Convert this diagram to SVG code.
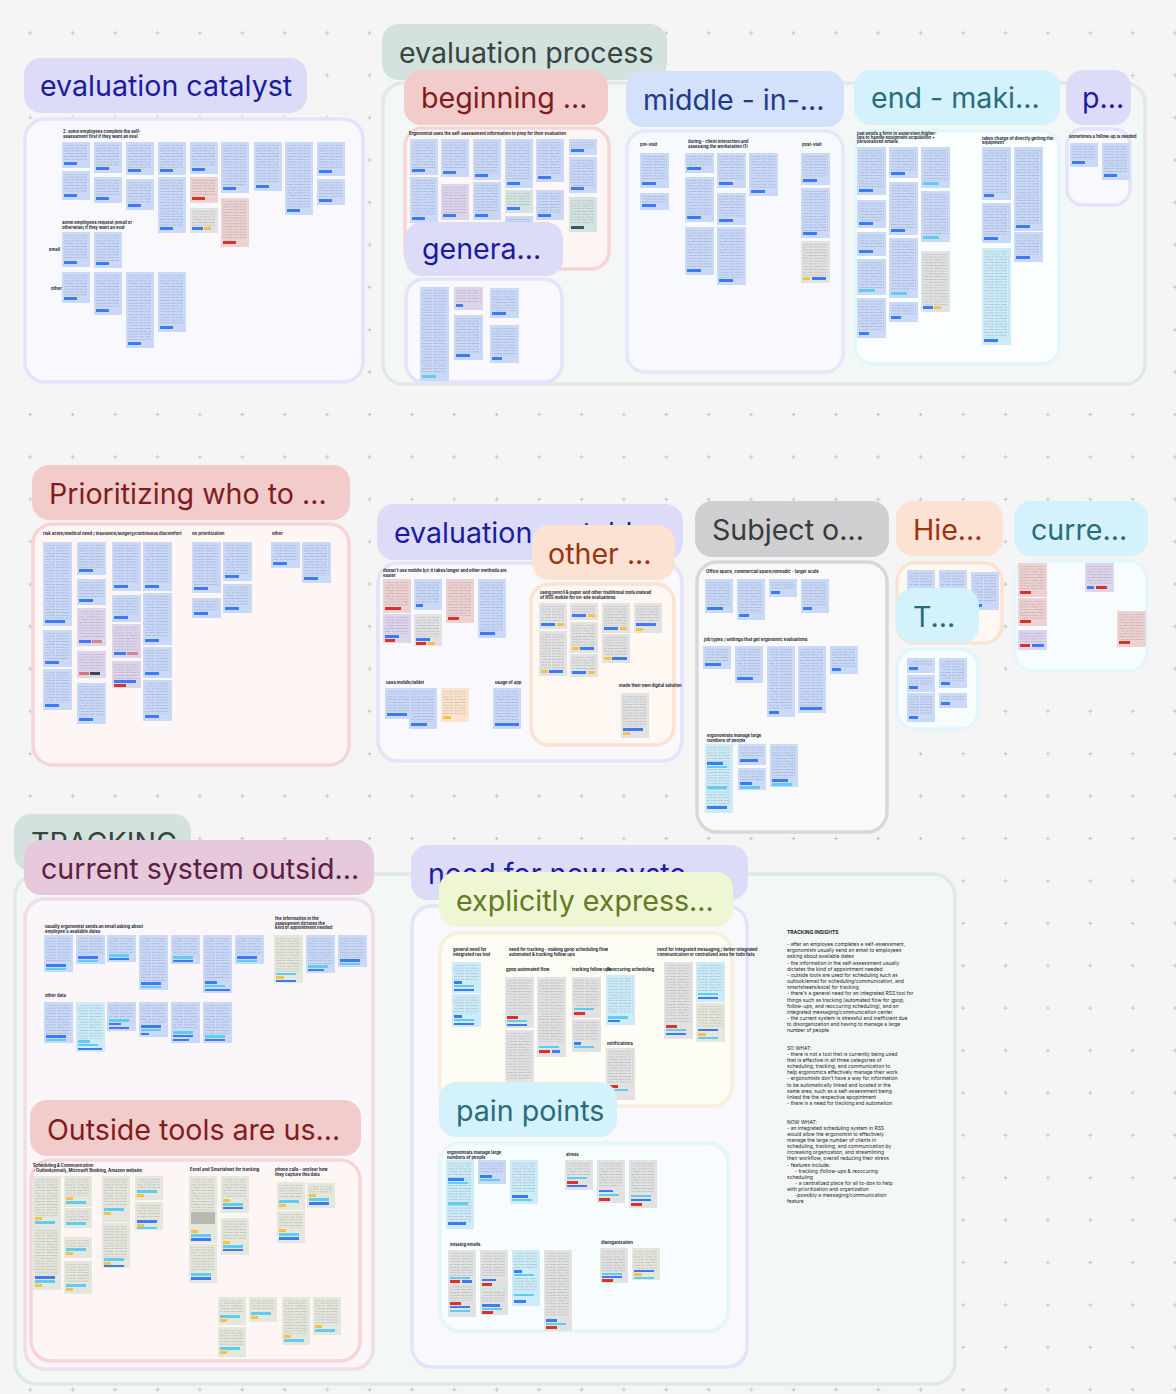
<svg xmlns="http://www.w3.org/2000/svg" width="1176" height="1394" viewBox="0 0 1176 1394">
<defs>
<pattern id="dots" x="9.1" y="11.7" width="42.4" height="42.4" patternUnits="userSpaceOnUse"><path d="M19.2 21.2h4M21.2 19.2v4" stroke="#c4c4c4" stroke-width="1"/></pattern>
<pattern id="tx" width="13" height="8.4" patternUnits="userSpaceOnUse"><g fill="#3f4654" fill-opacity="0.28"><rect width="8" height="0.7"/><rect x="9" width="3" height="0.7"/><rect y="2.8" width="3" height="0.7"/><rect x="4" y="2.8" width="8" height="0.7"/><rect y="5.6" width="5" height="0.7"/><rect x="6" y="5.6" width="6" height="0.7"/></g></pattern>
</defs>
<style>
.pill{rx:17px}
.fr{stroke-width:3.5}
.pt{font-family:Inter,"Noto Sans","Liberation Sans",sans-serif;font-size:28.6px}
.h{font-family:Inter,"Liberation Sans",sans-serif;font-size:4.2px;font-weight:700;fill:#1f2937}
.b{fill:#c9d9f7}.r{fill:#eed1d1}.g{fill:#e2e2e2}.p{fill:#ddd5ec}.o{fill:#fbe4cd}.c{fill:#cdebf8}.e{fill:#e5e7dc}.q{fill:#d4e4e2}
.t{fill:url(#tx)}
.tb{fill:#3b7cf4}.tr{fill:#d8322c}.ty{fill:#f4c246}.tc{fill:#5fcdf0}
.ins{font-family:Inter,"Liberation Sans",sans-serif;font-size:5px;fill:#1f1f1f}
</style>
<rect width="1176" height="1394" fill="#f5f5f5"/>
<rect width="1176" height="1394" fill="url(#dots)"/>
<g id="connectors"/>

<g id="evaluation-catalyst">
<rect class="pill" x="24" y="58" width="283" height="55" fill="#dcdcf9"/>
<text class="pt" x="40" y="96" fill="#1b1b9e">evaluation catalyst</text>
<rect class="fr" x="25" y="119" width="338" height="263" rx="20" fill="#f8f8fd" stroke="#e3e3fb"/>
<text class="h" x="63" y="133">2. some employees complete the self-</text>
<text class="h" x="63" y="138">assessment first if they want an eval</text>
<text class="h" x="62" y="224">some employees request (email or</text>
<text class="h" x="62" y="229">otherwise) if they want an eval</text>
<text class="h" x="49" y="251">email</text>
<text class="h" x="51" y="290">other</text>
<g transform="translate(62,142)"><rect class="b" width="28" height="26"/><rect class="t" x="2" y="3" width="24" height="16"/><rect class="tb" x="2" y="20" width="13" height="3"/></g>
<g transform="translate(62,171)"><rect class="b" width="28" height="29"/><rect class="t" x="2" y="3" width="24" height="19"/><rect class="tb" x="2" y="23" width="13" height="3"/></g>
<g transform="translate(94,142)"><rect class="b" width="28" height="31"/><rect class="t" x="2" y="3" width="24" height="21"/><rect class="tb" x="2" y="25" width="13" height="3"/></g>
<g transform="translate(94,177)"><rect class="b" width="28" height="26"/><rect class="t" x="2" y="3" width="24" height="16"/><rect class="tb" x="2" y="20" width="13" height="3"/></g>
<g transform="translate(126,142)"><rect class="b" width="28" height="33"/><rect class="t" x="2" y="3" width="24" height="23"/><rect class="tb" x="2" y="27" width="13" height="3"/></g>
<g transform="translate(126,179)"><rect class="b" width="28" height="31"/><rect class="t" x="2" y="3" width="24" height="21"/><rect class="tb" x="2" y="25" width="13" height="3"/></g>
<g transform="translate(158,142)"><rect class="b" width="28" height="33"/><rect class="t" x="2" y="3" width="24" height="23"/><rect class="tb" x="2" y="27" width="13" height="3"/></g>
<g transform="translate(158,177)"><rect class="b" width="28" height="56"/><rect class="t" x="2" y="3" width="24" height="46"/><rect class="tb" x="2" y="50" width="13" height="3"/></g>
<g transform="translate(190,142)"><rect class="b" width="28" height="32"/><rect class="t" x="2" y="3" width="24" height="22"/><rect class="tb" x="2" y="26" width="13" height="3"/></g>
<g transform="translate(190,177)"><rect class="r" width="28" height="26"/><rect class="t" x="2" y="3" width="24" height="16"/><rect class="tr" x="2" y="20" width="13" height="3"/></g>
<g transform="translate(190,208)"><rect class="g" width="28" height="25"/><rect class="t" x="2" y="3" width="24" height="15"/><rect class="tb" x="2" y="19" width="11" height="3"/><rect class="ty" x="14" y="19" width="7" height="3"/></g>
<g transform="translate(221,142)"><rect class="b" width="28" height="51"/><rect class="t" x="2" y="3" width="24" height="41"/><rect class="tb" x="2" y="45" width="13" height="3"/></g>
<g transform="translate(221,198)"><rect class="r" width="28" height="49"/><rect class="t" x="2" y="3" width="24" height="39"/><rect class="tr" x="2" y="43" width="13" height="3"/></g>
<g transform="translate(254,142)"><rect class="b" width="28" height="49"/><rect class="t" x="2" y="3" width="24" height="39"/><rect class="tb" x="2" y="43" width="13" height="3"/></g>
<g transform="translate(285,142)"><rect class="b" width="28" height="73"/><rect class="t" x="2" y="3" width="24" height="63"/><rect class="tb" x="2" y="67" width="13" height="3"/></g>
<g transform="translate(317,142)"><rect class="b" width="28" height="34"/><rect class="t" x="2" y="3" width="24" height="24"/><rect class="tb" x="2" y="28" width="13" height="3"/></g>
<g transform="translate(317,179)"><rect class="b" width="28" height="26"/><rect class="t" x="2" y="3" width="24" height="16"/><rect class="tb" x="2" y="20" width="13" height="3"/></g>
<g transform="translate(62,232)"><rect class="b" width="28" height="35"/><rect class="t" x="2" y="3" width="24" height="25"/><rect class="tb" x="2" y="29" width="13" height="3"/></g>
<g transform="translate(94,232)"><rect class="b" width="28" height="36"/><rect class="t" x="2" y="3" width="24" height="26"/><rect class="tb" x="2" y="30" width="13" height="3"/></g>
<g transform="translate(62,272)"><rect class="b" width="28" height="31"/><rect class="t" x="2" y="3" width="24" height="21"/><rect class="tb" x="2" y="25" width="13" height="3"/></g>
<g transform="translate(94,272)"><rect class="b" width="28" height="43"/><rect class="t" x="2" y="3" width="24" height="33"/><rect class="tb" x="2" y="37" width="13" height="3"/></g>
<g transform="translate(126,272)"><rect class="b" width="28" height="76"/><rect class="t" x="2" y="3" width="24" height="66"/><rect class="tb" x="2" y="70" width="13" height="3"/></g>
<g transform="translate(158,272)"><rect class="b" width="28" height="60"/><rect class="t" x="2" y="3" width="24" height="50"/><rect class="tb" x="2" y="54" width="13" height="3"/></g>
</g>

<g id="evaluation-process">
<rect class="fr" x="383" y="83" width="762" height="301" rx="20" fill="#f3f7f6" stroke="#dfeae6"/>
<rect class="pill" x="382" y="24" width="285" height="56" fill="#d3e2df"/>
<text class="pt" x="399" y="63" fill="#39433f">evaluation process</text>

<g id="beginning">
<rect class="fr" x="405" y="128" width="204" height="141" rx="18" fill="#fdf6f5" stroke="#f6d5d4"/>
<rect class="pill" x="404" y="70" width="204" height="55" fill="#f2cccb"/>
<text class="pt" x="421" y="108" fill="#7f1d1d">beginning ...</text>
<text class="h" x="409" y="135">Ergonomist uses the self-assessment information to prep for their evaluation</text>
<g transform="translate(410,139)"><rect class="b" width="28" height="36"/><rect class="t" x="2" y="3" width="24" height="26"/><rect class="tb" x="2" y="30" width="13" height="3"/></g>
<g transform="translate(410,177)"><rect class="b" width="28" height="46"/><rect class="t" x="2" y="3" width="24" height="36"/><rect class="tb" x="2" y="40" width="13" height="3"/></g>
<g transform="translate(441,139)"><rect class="b" width="28" height="38"/><rect class="t" x="2" y="3" width="24" height="28"/><rect class="tb" x="2" y="32" width="13" height="3"/></g>
<g transform="translate(441,184)"><rect class="p" width="28" height="36"/><rect class="t" x="2" y="3" width="24" height="26"/><rect class="tb" x="2" y="30" width="13" height="3"/></g>
<g transform="translate(473,139)"><rect class="b" width="28" height="41"/><rect class="t" x="2" y="3" width="24" height="31"/><rect class="tb" x="2" y="35" width="13" height="3"/></g>
<g transform="translate(473,182)"><rect class="b" width="28" height="38"/><rect class="t" x="2" y="3" width="24" height="28"/><rect class="tb" x="2" y="32" width="13" height="3"/></g>
<g transform="translate(505,139)"><rect class="b" width="28" height="49"/><rect class="t" x="2" y="3" width="24" height="39"/><rect class="tb" x="2" y="43" width="13" height="3"/></g>
<g transform="translate(505,190)"><rect class="q" width="28" height="23"/><rect class="t" x="2" y="3" width="24" height="13"/><rect class="tb" x="2" y="17" width="13" height="3"/></g>
<g transform="translate(505,216)"><rect class="b" width="28" height="14"/><rect class="t" x="2" y="3" width="24" height="5"/></g>
<g transform="translate(536,139)"><rect class="b" width="28" height="43"/><rect class="t" x="2" y="3" width="24" height="33"/><rect class="tb" x="2" y="37" width="13" height="3"/></g>
<g transform="translate(536,190)"><rect class="b" width="28" height="30"/><rect class="t" x="2" y="3" width="24" height="20"/><rect class="tb" x="2" y="24" width="13" height="3"/></g>
<g transform="translate(569,139)"><rect class="b" width="28" height="16"/><rect class="t" x="2" y="3" width="24" height="6"/><rect class="tb" x="2" y="10" width="13" height="3"/></g>
<g transform="translate(569,157)"><rect class="b" width="28" height="36"/><rect class="t" x="2" y="3" width="24" height="26"/><rect class="tb" x="2" y="30" width="13" height="3"/></g>
<g transform="translate(569,197)"><rect class="q" width="28" height="35"/><rect class="t" x="2" y="3" width="24" height="25"/><rect fill="#3a5a55" x="2" y="29" width="13" height="3"/></g>
</g>

<g id="general">
<rect class="fr" x="406" y="279" width="156" height="103" rx="18" fill="#f8f8fd" stroke="#e3e3fb"/>
<rect class="pill" x="405" y="222" width="158" height="54" fill="#dcdcf9"/>
<text class="pt" x="422" y="259" fill="#1b1b9e">genera...</text>
<g transform="translate(420,287)"><rect class="b" width="29" height="94"/><rect class="t" x="2" y="3" width="25" height="84"/><rect class="tc" x="2" y="88" width="14" height="3"/></g>
<g transform="translate(454,287)"><rect class="p" width="29" height="23"/><rect class="t" x="2" y="3" width="25" height="13"/><rect class="tb" x="2" y="17" width="7" height="3"/></g>
<g transform="translate(454,315)"><rect class="b" width="29" height="45"/><rect class="t" x="2" y="3" width="25" height="35"/><rect class="tb" x="2" y="39" width="14" height="3"/></g>
<g transform="translate(490,288)"><rect class="b" width="29" height="30"/><rect class="t" x="2" y="3" width="25" height="20"/><rect class="tb" x="2" y="24" width="14" height="3"/></g>
<g transform="translate(490,325)"><rect class="b" width="29" height="38"/><rect class="t" x="2" y="3" width="25" height="28"/><rect class="tb" x="2" y="32" width="10" height="3"/></g>
</g>

<g id="middle">
<rect class="fr" x="627" y="131" width="216" height="241" rx="18" fill="#f8f9fe" stroke="#e3e9fb"/>
<rect class="pill" x="626" y="71" width="218" height="56" fill="#d4e1fb"/>
<text class="pt" x="643" y="110" fill="#1e3a8a">middle - in-...</text>
<text class="h" x="640" y="146">pre-visit</text>
<text class="h" x="688" y="143">during - client interaction and</text>
<text class="h" x="688" y="147.5">assessing the workstation (1)</text>
<text class="h" x="802" y="146">post-visit</text>
<g transform="translate(640,153)"><rect class="b" width="29" height="35"/><rect class="t" x="2" y="3" width="25" height="25"/><rect class="tb" x="2" y="29" width="14" height="3"/></g>
<g transform="translate(640,193)"><rect class="b" width="29" height="17"/><rect class="t" x="2" y="3" width="25" height="7"/><rect class="tb" x="2" y="11" width="14" height="3"/></g>
<g transform="translate(685,153)"><rect class="b" width="29" height="20"/><rect class="t" x="2" y="3" width="25" height="10"/><rect class="tb" x="2" y="14" width="14" height="3"/></g>
<g transform="translate(685,177)"><rect class="b" width="29" height="45"/><rect class="t" x="2" y="3" width="25" height="35"/><rect class="tb" x="2" y="39" width="14" height="3"/></g>
<g transform="translate(685,227)"><rect class="b" width="29" height="48"/><rect class="t" x="2" y="3" width="25" height="38"/><rect class="tb" x="2" y="42" width="14" height="3"/></g>
<g transform="translate(717,153)"><rect class="b" width="29" height="35"/><rect class="t" x="2" y="3" width="25" height="25"/><rect class="tb" x="2" y="29" width="14" height="3"/></g>
<g transform="translate(717,193)"><rect class="b" width="29" height="32"/><rect class="t" x="2" y="3" width="25" height="22"/><rect class="tb" x="2" y="26" width="14" height="3"/></g>
<g transform="translate(717,227)"><rect class="b" width="29" height="58"/><rect class="t" x="2" y="3" width="25" height="48"/><rect class="tb" x="2" y="52" width="14" height="3"/></g>
<g transform="translate(749,153)"><rect class="b" width="29" height="43"/><rect class="t" x="2" y="3" width="25" height="33"/><rect class="tb" x="2" y="37" width="14" height="3"/></g>
<g transform="translate(801,153)"><rect class="b" width="29" height="32"/><rect class="t" x="2" y="3" width="25" height="22"/><rect class="tb" x="2" y="26" width="14" height="3"/></g>
<g transform="translate(801,188)"><rect class="b" width="29" height="50"/><rect class="t" x="2" y="3" width="25" height="40"/><rect class="tb" x="2" y="44" width="14" height="3"/></g>
<g transform="translate(801,241)"><rect class="g" width="29" height="42"/><rect class="t" x="2" y="3" width="25" height="32"/><rect class="ty" x="2" y="36" width="7" height="3"/><rect class="tb" x="11" y="36" width="14" height="3"/></g>
</g>

<g id="end">
<rect class="fr" x="855" y="131" width="204" height="233" rx="18" fill="#fafeff" stroke="#e3f6fb"/>
<rect class="pill" x="854" y="70" width="206" height="55" fill="#d4f2fb"/>
<text class="pt" x="871" y="108" fill="#2a6b7c">end - maki...</text>
<text class="h" x="857" y="135">just sends a form to supervisor/higher-</text>
<text class="h" x="857" y="139">ups to handle equipment acquisition +</text>
<text class="h" x="857" y="143">personalized emails</text>
<text class="h" x="982" y="140">takes charge of directly getting the</text>
<text class="h" x="982" y="144">equipment</text>
<g transform="translate(857,147)"><rect class="b" width="29" height="48"/><rect class="t" x="2" y="3" width="25" height="38"/><rect class="tb" x="2" y="42" width="14" height="3"/></g>
<g transform="translate(857,200)"><rect class="b" width="29" height="28"/><rect class="t" x="2" y="3" width="25" height="18"/><rect class="tb" x="2" y="22" width="14" height="3"/></g>
<g transform="translate(857,232)"><rect class="b" width="29" height="24"/><rect class="t" x="2" y="3" width="25" height="14"/><rect class="tb" x="2" y="18" width="14" height="3"/></g>
<g transform="translate(857,259)"><rect class="b" width="29" height="36"/><rect class="t" x="2" y="3" width="25" height="26"/><rect class="tc" x="2" y="30" width="16" height="3"/></g>
<g transform="translate(857,298)"><rect class="b" width="29" height="40"/><rect class="t" x="2" y="3" width="25" height="30"/><rect class="tb" x="2" y="34" width="10" height="3"/></g>
<g transform="translate(889,147)"><rect class="b" width="29" height="31"/><rect class="t" x="2" y="3" width="25" height="21"/><rect class="tb" x="2" y="25" width="14" height="3"/></g>
<g transform="translate(889,182)"><rect class="b" width="29" height="53"/><rect class="t" x="2" y="3" width="25" height="43"/><rect class="tb" x="2" y="47" width="14" height="3"/></g>
<g transform="translate(889,238)"><rect class="b" width="29" height="60"/><rect class="t" x="2" y="3" width="25" height="50"/><rect class="tc" x="2" y="54" width="16" height="3"/></g>
<g transform="translate(889,302)"><rect class="b" width="29" height="20"/><rect class="t" x="2" y="3" width="25" height="10"/><rect class="tb" x="2" y="14" width="10" height="3"/></g>
<g transform="translate(921,147)"><rect class="b" width="29" height="41"/><rect class="t" x="2" y="3" width="25" height="31"/><rect class="tc" x="2" y="35" width="16" height="3"/></g>
<g transform="translate(921,191)"><rect class="b" width="29" height="51"/><rect class="t" x="2" y="3" width="25" height="41"/><rect class="tc" x="2" y="45" width="16" height="3"/></g>
<g transform="translate(921,251)"><rect class="g" width="29" height="61"/><rect class="t" x="2" y="3" width="25" height="51"/><rect class="tb" x="2" y="55" width="10" height="3"/><rect class="ty" x="13" y="55" width="7" height="3"/></g>
<g transform="translate(982,147)"><rect class="b" width="29" height="53"/><rect class="t" x="2" y="3" width="25" height="43"/><rect class="tb" x="2" y="47" width="10" height="3"/></g>
<g transform="translate(982,203)"><rect class="b" width="29" height="40"/><rect class="t" x="2" y="3" width="25" height="30"/><rect class="tb" x="2" y="34" width="14" height="3"/></g>
<g transform="translate(982,248)"><rect class="c" width="29" height="97"/><rect class="t" x="2" y="3" width="25" height="87"/><rect class="tb" x="2" y="91" width="14" height="3"/></g>
<g transform="translate(1014,147)"><rect class="b" width="29" height="84"/><rect class="t" x="2" y="3" width="25" height="74"/><rect class="tb" x="2" y="78" width="14" height="3"/></g>
<g transform="translate(1014,232)"><rect class="b" width="29" height="30"/><rect class="t" x="2" y="3" width="25" height="20"/><rect class="tb" x="2" y="24" width="14" height="3"/></g>
</g>

<g id="p-section">
<rect class="fr" x="1067" y="129" width="63" height="76" rx="16" fill="#f8f8fd" stroke="#e3e3fb"/>
<rect class="pill" x="1066" y="70" width="65" height="55" fill="#dcdcf9"/>
<text class="pt" x="1082" y="108" fill="#1b1b9e">p...</text>
<text class="h" x="1069" y="138">sometimes a follow-up is needed</text>
<g transform="translate(1070,143)"><rect class="b" width="28" height="24"/><rect class="t" x="2" y="3" width="24" height="14"/><rect class="tb" x="2" y="18" width="13" height="3"/></g>
<g transform="translate(1102,143)"><rect class="b" width="28" height="37"/><rect class="t" x="2" y="3" width="24" height="27"/><rect class="tb" x="2" y="31" width="13" height="3"/></g>
</g>
</g>

<g id="prioritizing">
<rect class="fr" x="33" y="524" width="316" height="241" rx="20" fill="#fdf6f5" stroke="#f6d5d4"/>
<rect class="pill" x="32" y="465" width="318" height="55" fill="#f2cccb"/>
<text class="pt" x="49" y="504" fill="#7f1d1d">Prioritizing who to ...</text>
<text class="h" x="43" y="535">risk score/medical need / insurance/surgery/continuous discomfort</text>
<text class="h" x="192" y="535">no prioritization</text>
<text class="h" x="272" y="535">other</text>
<g transform="translate(43,542)"><rect class="b" width="29" height="84"/><rect class="t" x="2" y="3" width="25" height="74"/><rect class="tb" x="2" y="78" width="20" height="3"/></g>
<g transform="translate(43,630)"><rect class="b" width="29" height="37"/><rect class="t" x="2" y="3" width="25" height="27"/><rect class="tb" x="2" y="31" width="14" height="3"/></g>
<g transform="translate(43,669)"><rect class="b" width="29" height="41"/><rect class="t" x="2" y="3" width="25" height="31"/><rect class="tb" x="2" y="35" width="14" height="3"/></g>
<g transform="translate(77,542)"><rect class="b" width="29" height="33"/><rect class="t" x="2" y="3" width="25" height="23"/><rect class="tb" x="2" y="27" width="14" height="3"/></g>
<g transform="translate(77,579)"><rect class="b" width="29" height="26"/><rect class="t" x="2" y="3" width="25" height="16"/><rect class="tb" x="2" y="20" width="14" height="3"/></g>
<g transform="translate(77,608)"><rect class="p" width="29" height="38"/><rect class="t" x="2" y="3" width="25" height="28"/><rect class="tb" x="2" y="32" width="12" height="3"/><rect class="tr" x="15" y="32" width="10" height="3" fill-opacity=".5"/></g>
<g transform="translate(77,651)"><rect class="p" width="29" height="27"/><rect class="t" x="2" y="3" width="25" height="17"/><rect class="tr" x="2" y="21" width="10" height="3" fill-opacity=".6"/><rect fill="#3b4a4a" x="13" y="21" width="10" height="3"/></g>
<g transform="translate(77,683)"><rect class="b" width="29" height="41"/><rect class="t" x="2" y="3" width="25" height="31"/><rect class="tb" x="2" y="35" width="14" height="3"/></g>
<g transform="translate(112,542)"><rect class="b" width="29" height="49"/><rect class="t" x="2" y="3" width="25" height="39"/><rect class="tb" x="2" y="43" width="14" height="3"/></g>
<g transform="translate(112,595)"><rect class="b" width="29" height="27"/><rect class="t" x="2" y="3" width="25" height="17"/><rect class="tb" x="2" y="21" width="14" height="3"/></g>
<g transform="translate(112,624)"><rect class="p" width="29" height="34"/><rect class="t" x="2" y="3" width="25" height="24"/><rect class="tb" x="2" y="28" width="12" height="3"/><rect class="tr" x="15" y="28" width="11" height="3" fill-opacity=".5"/></g>
<g transform="translate(112,661)"><rect class="p" width="29" height="27"/><rect class="t" x="2" y="3" width="25" height="15"/><rect class="tb" x="2" y="19" width="22" height="3"/><rect class="tr" x="2" y="23" width="12" height="3"/></g>
<g transform="translate(143,542)"><rect class="b" width="29" height="49"/><rect class="t" x="2" y="3" width="25" height="39"/><rect class="tb" x="2" y="43" width="14" height="3"/></g>
<g transform="translate(143,593)"><rect class="b" width="29" height="52"/><rect class="t" x="2" y="3" width="25" height="42"/><rect class="tb" x="2" y="46" width="14" height="3"/></g>
<g transform="translate(143,647)"><rect class="b" width="29" height="31"/><rect class="t" x="2" y="3" width="25" height="21"/><rect class="tb" x="2" y="25" width="14" height="3"/></g>
<g transform="translate(143,680)"><rect class="b" width="29" height="41"/><rect class="t" x="2" y="3" width="25" height="31"/><rect class="tb" x="2" y="35" width="14" height="3"/></g>
<g transform="translate(192,542)"><rect class="b" width="29" height="51"/><rect class="t" x="2" y="3" width="25" height="41"/><rect class="tb" x="2" y="45" width="14" height="3"/></g>
<g transform="translate(192,598)"><rect class="b" width="29" height="20"/><rect class="t" x="2" y="3" width="25" height="10"/><rect class="tb" x="2" y="14" width="14" height="3"/></g>
<g transform="translate(223,542)"><rect class="b" width="29" height="39"/><rect class="t" x="2" y="3" width="25" height="29"/><rect class="tb" x="2" y="33" width="14" height="3"/></g>
<g transform="translate(223,584)"><rect class="b" width="29" height="29"/><rect class="t" x="2" y="3" width="25" height="19"/><rect class="tb" x="2" y="23" width="14" height="3"/></g>
<g transform="translate(271,542)"><rect class="b" width="29" height="26"/><rect class="t" x="2" y="3" width="25" height="16"/><rect class="tb" x="2" y="20" width="14" height="3"/></g>
<g transform="translate(302,542)"><rect class="b" width="29" height="41"/><rect class="t" x="2" y="3" width="25" height="31"/><rect class="tb" x="2" y="35" width="14" height="3"/></g>
</g>

<g id="evaluation-tablet">
<rect class="fr" x="378" y="563" width="304" height="198" rx="20" fill="#f8f8fd" stroke="#e3e3fb"/>
<rect class="pill" x="377" y="504" width="306" height="56" fill="#dcdcf9"/>
<text class="pt" x="394" y="543" fill="#1b1b9e">evaluation on tabl...</text>
<text class="h" x="383" y="572">doesn't use mobile b/c it takes longer and other methods are</text>
<text class="h" x="383" y="576.5">easier</text>
<text class="h" x="386" y="684">uses mobile/tablet</text>
<text class="h" x="495" y="684">usage of app</text>
<g transform="translate(383,579)"><rect class="r" width="28" height="34"/><rect class="t" x="2" y="3" width="24" height="24"/><rect class="tr" x="2" y="28" width="16" height="3"/></g>
<g transform="translate(383,614)"><rect class="p" width="28" height="29"/><rect class="t" x="2" y="3" width="24" height="17"/><rect class="tb" x="2" y="21" width="14" height="3"/><rect class="tr" x="2" y="25" width="10" height="3"/></g>
<g transform="translate(414,579)"><rect class="b" width="28" height="31"/><rect class="t" x="2" y="3" width="24" height="21"/><rect class="tb" x="2" y="25" width="7" height="3"/></g>
<g transform="translate(414,614)"><rect class="g" width="28" height="32"/><rect class="t" x="2" y="3" width="24" height="20"/><rect class="tb" x="2" y="24" width="14" height="3"/><rect class="tr" x="2" y="28" width="10" height="3"/><rect class="ty" x="14" y="28" width="7" height="3"/></g>
<g transform="translate(446,579)"><rect class="r" width="28" height="44"/><rect class="t" x="2" y="3" width="24" height="34"/><rect class="tr" x="2" y="38" width="11" height="3"/></g>
<g transform="translate(478,579)"><rect class="b" width="28" height="59"/><rect class="t" x="2" y="3" width="24" height="49"/><rect class="tb" x="2" y="53" width="15" height="3"/></g>
<g transform="translate(385,688)"><rect class="b" width="28" height="31"/><rect class="t" x="2" y="3" width="24" height="21"/><rect class="tb" x="2" y="25" width="20" height="3"/></g>
<g transform="translate(409,688)"><rect class="b" width="28" height="41"/><rect class="t" x="2" y="3" width="24" height="31"/><rect class="tb" x="2" y="35" width="16" height="3"/></g>
<g transform="translate(441,688)"><rect class="o" width="28" height="34"/><rect class="t" x="2" y="3" width="24" height="24"/><rect class="ty" x="2" y="28" width="8" height="3"/></g>
<g transform="translate(493,688)"><rect class="b" width="28" height="41"/><rect class="t" x="2" y="3" width="24" height="31"/><rect class="tb" x="2" y="35" width="24" height="3"/></g>

<g id="other">
<rect class="fr" x="531" y="584" width="143" height="161" rx="18" fill="#fef7f2" stroke="#fbe3d3"/>
<rect class="pill" x="532" y="525" width="143" height="55" fill="#fbe2d3"/>
<text class="pt" x="548" y="564" fill="#9a3412">other ...</text>
<text class="h" x="540" y="594">using pencil &amp; paper and other traditional tools instead</text>
<text class="h" x="540" y="598.5">of RSS mobile for on-site evaluations</text>
<text class="h" x="619" y="687">made their own digital solution</text>
<g transform="translate(539,603)"><rect class="g" width="28" height="26"/><rect class="t" x="2" y="3" width="24" height="16"/><rect class="tb" x="2" y="20" width="14" height="3"/><rect class="ty" x="18" y="20" width="7" height="3"/></g>
<g transform="translate(539,631)"><rect class="g" width="28" height="45"/><rect class="t" x="2" y="3" width="24" height="35"/><rect class="ty" x="2" y="39" width="7" height="3"/><rect class="tb" x="10" y="39" width="14" height="3"/></g>
<g transform="translate(570,603)"><rect class="g" width="28" height="17"/><rect class="t" x="2" y="3" width="24" height="7"/><rect class="tb" x="2" y="11" width="14" height="3"/><rect class="ty" x="18" y="11" width="7" height="3"/></g>
<g transform="translate(570,622)"><rect class="g" width="28" height="31"/><rect class="t" x="2" y="3" width="24" height="21"/><rect class="ty" x="2" y="25" width="7" height="3"/><rect class="tb" x="10" y="25" width="14" height="3"/></g>
<g transform="translate(570,654)"><rect class="g" width="28" height="23"/><rect class="t" x="2" y="3" width="24" height="13"/><rect class="tb" x="2" y="17" width="14" height="3"/><rect class="ty" x="18" y="17" width="7" height="3"/></g>
<g transform="translate(602,603)"><rect class="g" width="28" height="30"/><rect class="t" x="2" y="3" width="24" height="20"/><rect class="tb" x="2" y="24" width="14" height="3"/><rect class="ty" x="18" y="24" width="7" height="3"/></g>
<g transform="translate(602,634)"><rect class="g" width="28" height="29"/><rect class="t" x="2" y="3" width="24" height="19"/><rect class="ty" x="2" y="23" width="7" height="3"/><rect class="tb" x="10" y="23" width="15" height="3"/></g>
<g transform="translate(634,603)"><rect class="g" width="28" height="30"/><rect class="t" x="2" y="3" width="24" height="16"/><rect class="tb" x="2" y="20" width="20" height="3"/><rect class="ty" x="2" y="25" width="7" height="3"/></g>
<g transform="translate(621,693)"><rect class="g" width="28" height="45"/><rect class="t" x="2" y="3" width="24" height="31"/><rect class="tb" x="2" y="35" width="20" height="3"/><rect class="ty" x="2" y="39" width="7" height="3"/></g>
</g>
</g>

<g id="subject">
<rect class="fr" x="697" y="562" width="190" height="270" rx="20" fill="#f9f9f9" stroke="#d8d8d8" stroke-width="4"/>
<rect class="pill" x="695" y="501" width="194" height="56" fill="#cfcfd1"/>
<text class="pt" x="712" y="540" fill="#363c3a">Subject o...</text>
<text class="h" x="706" y="573">Office space, commercial space/nomadic - larger scale</text>
<text class="h" x="704" y="641">job types / settings that get ergonomic evaluations</text>
<text class="h" x="707" y="737">ergonomists manage large</text>
<text class="h" x="707" y="741.5">numbers of people</text>
<g transform="translate(705,579)"><rect class="b" width="28" height="34"/><rect class="t" x="2" y="3" width="24" height="24"/><rect class="tb" x="2" y="28" width="16" height="3"/></g>
<g transform="translate(737,579)"><rect class="b" width="28" height="41"/><rect class="t" x="2" y="3" width="24" height="31"/><rect class="tb" x="2" y="35" width="10" height="3"/></g>
<g transform="translate(769,579)"><rect class="b" width="28" height="18"/><rect class="t" x="2" y="3" width="24" height="8"/><rect class="tb" x="2" y="12" width="9" height="3"/></g>
<g transform="translate(801,579)"><rect class="b" width="28" height="34"/><rect class="t" x="2" y="3" width="24" height="24"/><rect class="tb" x="2" y="28" width="9" height="3"/></g>
<g transform="translate(703,646)"><rect class="b" width="28" height="23"/><rect class="t" x="2" y="3" width="24" height="13"/><rect class="tb" x="2" y="17" width="16" height="3"/></g>
<g transform="translate(735,646)"><rect class="b" width="28" height="37"/><rect class="t" x="2" y="3" width="24" height="27"/><rect class="tb" x="2" y="31" width="16" height="3"/></g>
<g transform="translate(767,646)"><rect class="b" width="28" height="71"/><rect class="t" x="2" y="3" width="24" height="61"/><rect class="tb" x="2" y="65" width="10" height="3"/></g>
<g transform="translate(798,646)"><rect class="b" width="28" height="67"/><rect class="t" x="2" y="3" width="24" height="57"/><rect class="tb" x="2" y="61" width="22" height="3"/></g>
<g transform="translate(830,646)"><rect class="b" width="28" height="28"/><rect class="t" x="2" y="3" width="24" height="18"/><rect class="tb" x="2" y="22" width="9" height="3"/></g>
<g transform="translate(705,744)"><rect class="c" width="28" height="69"/><rect class="t" x="2" y="3" width="24" height="59"/><rect class="tb" x="2" y="18" width="16" height="3"/><rect class="tc" x="2" y="22" width="20" height="2"/><rect class="tc" x="2" y="42" width="20" height="3"/><rect class="tb" x="2" y="62" width="20" height="3"/></g>
<g transform="translate(738,744)"><rect class="b" width="28" height="21"/><rect class="t" x="2" y="3" width="24" height="11"/><rect class="tb" x="2" y="15" width="18" height="3"/></g>
<g transform="translate(738,768)"><rect class="b" width="28" height="22"/><rect class="t" x="2" y="3" width="24" height="10"/><rect class="tb" x="2" y="14" width="12" height="3"/><rect class="tc" x="2" y="18" width="20" height="3"/></g>
<g transform="translate(770,744)"><rect class="b" width="28" height="43"/><rect class="t" x="2" y="3" width="24" height="31"/><rect class="tb" x="2" y="35" width="16" height="3"/><rect class="tc" x="2" y="39" width="20" height="3"/></g>
</g>

<g id="hierarchy">
<rect class="fr" x="897" y="563" width="105" height="80" rx="18" fill="#fef7f2" stroke="#fbe3d3"/>
<rect class="pill" x="896" y="501" width="107" height="55" fill="#fbe2d3"/>
<text class="pt" x="913" y="540" fill="#9a3412">Hie...</text>
<g transform="translate(907,570)"><rect class="b" width="28" height="20"/><rect class="t" x="2" y="3" width="24" height="14"/></g>
<g transform="translate(939,570)"><rect class="b" width="28" height="20"/><rect class="t" x="2" y="3" width="24" height="14"/></g>
<g transform="translate(971,572)"><rect class="b" width="28" height="38"/><rect class="t" x="2" y="3" width="24" height="28"/><rect class="tb" x="2" y="32" width="9" height="3"/></g>
</g>

<g id="t-section">
<rect class="pill" x="896" y="588" width="83" height="55" fill="#d4f2fb"/>
<text class="pt" x="913" y="627" fill="#2a6b7c">T...</text>
<rect class="fr" x="897" y="649" width="81" height="80" rx="18" fill="#f7fdff" stroke="#e3f6fb"/>
<g transform="translate(907,658)"><rect class="b" width="28" height="15"/><rect class="t" x="2" y="3" width="24" height="5"/><rect class="tb" x="2" y="9" width="9" height="3"/></g>
<g transform="translate(907,675)"><rect class="b" width="28" height="17"/><rect class="t" x="2" y="3" width="24" height="7"/><rect class="tb" x="2" y="11" width="9" height="3"/></g>
<g transform="translate(907,693)"><rect class="b" width="28" height="29"/><rect class="t" x="2" y="3" width="24" height="19"/><rect class="tb" x="2" y="23" width="9" height="3"/></g>
<g transform="translate(939,658)"><rect class="b" width="28" height="30"/><rect class="t" x="2" y="3" width="24" height="20"/><rect class="tb" x="2" y="24" width="9" height="3"/></g>
<g transform="translate(939,693)"><rect class="b" width="28" height="15"/><rect class="t" x="2" y="3" width="24" height="5"/><rect class="tb" x="2" y="9" width="9" height="3"/></g>
</g>

<g id="current">
<rect class="fr" x="1015" y="561" width="132" height="110" rx="18" fill="#f7fdff" stroke="#e3f6fb"/>
<rect class="pill" x="1014" y="501" width="134" height="55" fill="#d4f2fb"/>
<text class="pt" x="1031" y="540" fill="#2a6b7c">curre...</text>
<g transform="translate(1018,563)"><rect class="r" width="29" height="34"/><rect class="t" x="2" y="3" width="25" height="24"/><rect class="tr" x="2" y="28" width="11" height="3"/></g>
<g transform="translate(1018,598)"><rect class="r" width="29" height="28"/><rect class="t" x="2" y="3" width="25" height="18"/><rect class="tr" x="2" y="22" width="11" height="3"/></g>
<g transform="translate(1018,630)"><rect class="p" width="29" height="20"/><rect class="t" x="2" y="3" width="25" height="10"/><rect class="tr" x="2" y="14" width="10" height="3"/><rect class="tb" x="14" y="14" width="12" height="3"/></g>
<g transform="translate(1085,563)"><rect class="p" width="29" height="29"/><rect class="t" x="2" y="3" width="25" height="19"/><rect class="tb" x="2" y="23" width="7" height="3"/><rect class="tr" x="11" y="23" width="11" height="3"/></g>
<g transform="translate(1117,611)"><rect class="r" width="29" height="36"/><rect class="t" x="2" y="3" width="25" height="26"/><rect class="tr" x="2" y="30" width="11" height="3"/></g>
</g>

<g id="tracking">
<rect class="fr" x="15" y="874" width="940" height="510" rx="22" fill="#f3f7f6" stroke="#dfeae6"/>
<rect class="pill" x="14" y="814" width="177" height="57" fill="#d3e2df"/>
<text class="pt" x="31" y="853" fill="#39433f">TRACKING</text>

<g id="current-system">
<rect class="pill" x="24" y="840" width="350" height="55" fill="#e6cadc"/>
<text class="pt" x="41" y="879" fill="#5b2144">current system outsid...</text>
<rect class="fr" x="25" y="899" width="348" height="470" rx="20" fill="#faf6fa" stroke="#f0dde9"/>
<text class="h" x="45" y="928">usually ergonomist sends an email asking about</text>
<text class="h" x="45" y="932.5">employee's available dates</text>
<text class="h" x="275" y="920">the information in the</text>
<text class="h" x="275" y="924.5">assessment dictates the</text>
<text class="h" x="275" y="929">kind of appointment needed</text>
<text class="h" x="45" y="997">other data</text>
<g transform="translate(44,935)"><rect class="b" width="29" height="37"/><rect class="t" x="2" y="3" width="25" height="25"/><rect class="tb" x="2" y="29" width="20" height="3"/><rect class="tc" x="2" y="33" width="20" height="2"/></g>
<g transform="translate(76,935)"><rect class="b" width="29" height="29"/><rect class="t" x="2" y="3" width="25" height="17"/><rect class="tb" x="2" y="21" width="20" height="3"/><rect class="tc" x="2" y="25" width="20" height="2"/></g>
<g transform="translate(107,935)"><rect class="b" width="29" height="27"/><rect class="t" x="2" y="3" width="25" height="15"/><rect class="tc" x="2" y="19" width="20" height="3"/><rect class="tb" x="2" y="23" width="20" height="2"/></g>
<g transform="translate(139,935)"><rect class="b" width="29" height="55"/><rect class="t" x="2" y="3" width="25" height="43"/><rect class="tb" x="2" y="47" width="20" height="3"/><rect class="tc" x="2" y="51" width="20" height="2"/></g>
<g transform="translate(171,935)"><rect class="b" width="29" height="29"/><rect class="t" x="2" y="3" width="25" height="17"/><rect class="tc" x="2" y="21" width="20" height="3"/><rect class="tb" x="2" y="25" width="20" height="2"/></g>
<g transform="translate(203,935)"><rect class="b" width="29" height="58"/><rect class="t" x="2" y="3" width="25" height="42"/><rect class="tb" x="2" y="46" width="12" height="3"/><rect class="tc" x="2" y="50" width="20" height="2"/><rect class="tb" x="2" y="54" width="25" height="2"/></g>
<g transform="translate(235,935)"><rect class="b" width="29" height="29"/><rect class="t" x="2" y="3" width="25" height="17"/><rect class="tb" x="2" y="21" width="20" height="3"/><rect class="tc" x="2" y="25" width="20" height="2"/></g>
<g transform="translate(274,935)"><rect class="e" width="29" height="48"/><rect class="t" x="2" y="3" width="25" height="34"/><rect class="tc" x="2" y="38" width="20" height="2"/><rect class="ty" x="2" y="41" width="8" height="3"/><rect class="tb" x="2" y="45" width="20" height="2"/></g>
<g transform="translate(306,935)"><rect class="b" width="29" height="38"/><rect class="t" x="2" y="3" width="25" height="26"/><rect class="tc" x="2" y="30" width="20" height="3"/><rect class="tb" x="2" y="34" width="16" height="2"/></g>
<g transform="translate(338,935)"><rect class="b" width="29" height="32"/><rect class="t" x="2" y="3" width="25" height="20"/><rect class="tb" x="2" y="24" width="20" height="3"/><rect class="tc" x="2" y="28" width="20" height="2"/></g>
<g transform="translate(44,1002)"><rect class="b" width="29" height="41"/><rect class="t" x="2" y="3" width="25" height="29"/><rect class="tb" x="2" y="33" width="20" height="3"/><rect class="tc" x="2" y="37" width="20" height="2"/></g>
<g transform="translate(76,1002)"><rect class="c" width="29" height="50"/><rect class="t" x="2" y="3" width="25" height="34"/><rect class="tc" x="2" y="38" width="12" height="3"/><rect class="tc" x="2" y="42" width="20" height="2"/><rect class="tb" x="2" y="46" width="24" height="2"/></g>
<g transform="translate(107,1002)"><rect class="b" width="29" height="29"/><rect class="t" x="2" y="3" width="25" height="13"/><rect class="tc" x="2" y="17" width="20" height="3"/><rect class="tb" x="2" y="21" width="12" height="2"/><rect class="tb" x="2" y="25" width="20" height="2"/></g>
<g transform="translate(139,1002)"><rect class="b" width="29" height="35"/><rect class="t" x="2" y="3" width="25" height="19"/><rect class="tb" x="2" y="23" width="20" height="3"/><rect class="tc" x="2" y="27" width="20" height="2"/><rect class="tb" x="2" y="31" width="8" height="2"/></g>
<g transform="translate(171,1002)"><rect class="b" width="29" height="41"/><rect class="t" x="2" y="3" width="25" height="25"/><rect class="tc" x="2" y="29" width="20" height="3"/><rect class="tb" x="2" y="33" width="20" height="2"/><rect class="tb" x="2" y="37" width="16" height="2"/></g>
<g transform="translate(203,1002)"><rect class="b" width="29" height="41"/><rect class="t" x="2" y="3" width="25" height="29"/><rect class="tc" x="2" y="33" width="20" height="3"/><rect class="tb" x="2" y="37" width="20" height="2"/></g>

<g id="outside-tools">
<rect class="pill" x="30" y="1100" width="331" height="56" fill="#f2cccb"/>
<text class="pt" x="47" y="1140" fill="#7f1d1d">Outside tools are us...</text>
<rect class="fr" x="31" y="1160" width="329" height="201" rx="20" fill="#fdf6f5" stroke="#f6d5d4"/>
<text class="h" x="33" y="1167">Scheduling &amp; Communication</text>
<text class="h" x="33" y="1171.5">- Outlook(email), Microsoft Booking, Amazon website</text>
<text class="h" x="190" y="1171">Excel and Smartsheet for tracking</text>
<text class="h" x="275" y="1171">phone calls - unclear how</text>
<text class="h" x="275" y="1175.5">they capture this data</text>
<g transform="translate(33,1176)"><rect class="e" width="28" height="51"/><rect class="t" x="2" y="3" width="24" height="37"/><rect class="ty" x="2" y="41" width="7" height="3"/><rect class="tc" x="2" y="45" width="20" height="3"/></g>
<g transform="translate(33,1227)"><rect class="e" width="28" height="63"/><rect class="t" x="2" y="3" width="24" height="45"/><rect class="tb" x="2" y="49" width="20" height="3"/><rect class="tc" x="2" y="53" width="20" height="3"/><rect class="ty" x="2" y="57" width="7" height="3"/></g>
<g transform="translate(64,1176)"><rect class="e" width="28" height="31"/><rect class="t" x="2" y="3" width="24" height="17"/><rect class="ty" x="2" y="21" width="7" height="3"/><rect class="tc" x="2" y="25" width="20" height="3"/></g>
<g transform="translate(64,1208)"><rect class="e" width="28" height="20"/><rect class="t" x="2" y="3" width="24" height="10"/><rect class="tc" x="2" y="14" width="20" height="3"/></g>
<g transform="translate(64,1237)"><rect class="e" width="28" height="21"/><rect class="t" x="2" y="3" width="24" height="7"/><rect class="tc" x="2" y="11" width="20" height="3"/><rect class="ty" x="2" y="15" width="7" height="3"/></g>
<g transform="translate(64,1261)"><rect class="e" width="28" height="33"/><rect class="t" x="2" y="3" width="24" height="19"/><rect class="tc" x="2" y="23" width="20" height="3"/><rect class="ty" x="2" y="27" width="7" height="3"/></g>
<g transform="translate(102,1176)"><rect class="e" width="28" height="46"/><rect class="t" x="2" y="3" width="24" height="28"/><rect class="tc" x="2" y="32" width="20" height="3"/><rect class="ty" x="2" y="36" width="7" height="3"/></g>
<g transform="translate(102,1223)"><rect class="e" width="28" height="45"/><rect class="t" x="2" y="3" width="24" height="31"/><rect class="tc" x="2" y="35" width="20" height="3"/><rect class="ty" x="2" y="39" width="7" height="3"/><rect class="tb" x="2" y="42" width="20" height="2"/></g>
<g transform="translate(135,1176)"><rect class="e" width="28" height="24"/><rect class="t" x="2" y="3" width="24" height="10"/><rect class="tc" x="2" y="14" width="20" height="3"/><rect class="ty" x="2" y="18" width="7" height="3"/></g>
<g transform="translate(135,1202)"><rect class="e" width="28" height="28"/><rect class="t" x="2" y="3" width="24" height="14"/><rect class="tb" x="2" y="18" width="20" height="3"/><rect class="ty" x="2" y="22" width="7" height="3"/><rect class="tc" x="2" y="25" width="20" height="2"/></g>
<g transform="translate(189,1176)"><rect class="e" width="28" height="67"/><rect class="t" x="2" y="3" width="24" height="40"/><rect fill="#b8b8b4" x="2" y="36" width="24" height="12"/><rect class="ty" x="2" y="54" width="7" height="3"/><rect class="tc" x="2" y="58" width="20" height="3"/><rect class="tb" x="2" y="62" width="20" height="3"/></g>
<g transform="translate(189,1244)"><rect class="e" width="28" height="39"/><rect class="t" x="2" y="3" width="24" height="25"/><rect class="tc" x="2" y="29" width="20" height="3"/><rect class="tb" x="2" y="33" width="20" height="3"/></g>
<g transform="translate(221,1176)"><rect class="e" width="28" height="37"/><rect class="t" x="2" y="3" width="24" height="19"/><rect class="ty" x="2" y="23" width="7" height="3"/><rect class="tc" x="2" y="27" width="20" height="3"/><rect class="tb" x="2" y="31" width="20" height="2"/></g>
<g transform="translate(221,1218)"><rect class="e" width="28" height="37"/><rect class="t" x="2" y="3" width="24" height="19"/><rect class="ty" x="2" y="23" width="7" height="3"/><rect class="tc" x="2" y="27" width="20" height="3"/><rect class="tb" x="2" y="31" width="20" height="2"/></g>
<g transform="translate(277,1182)"><rect class="e" width="28" height="28"/><rect class="t" x="2" y="3" width="24" height="14"/><rect class="tc" x="2" y="18" width="20" height="3"/><rect class="ty" x="2" y="22" width="7" height="3"/></g>
<g transform="translate(277,1211)"><rect class="e" width="28" height="32"/><rect class="t" x="2" y="3" width="24" height="14"/><rect class="ty" x="2" y="18" width="7" height="3"/><rect class="tc" x="2" y="22" width="20" height="3"/><rect class="tb" x="2" y="26" width="20" height="3"/></g>
<g transform="translate(307,1183)"><rect class="e" width="28" height="25"/><rect class="t" x="2" y="3" width="24" height="7"/><rect class="ty" x="2" y="11" width="7" height="3"/><rect class="tc" x="2" y="15" width="20" height="3"/><rect class="tb" x="2" y="19" width="20" height="3"/></g>
<g transform="translate(218,1297)"><rect class="e" width="28" height="28"/><rect class="t" x="2" y="3" width="24" height="14"/><rect class="tc" x="2" y="18" width="20" height="3"/><rect class="ty" x="2" y="22" width="7" height="3"/></g>
<g transform="translate(218,1327)"><rect class="e" width="28" height="30"/><rect class="t" x="2" y="3" width="24" height="16"/><rect class="tc" x="2" y="20" width="20" height="3"/><rect class="ty" x="2" y="24" width="7" height="3"/></g>
<g transform="translate(249,1297)"><rect class="e" width="28" height="25"/><rect class="t" x="2" y="3" width="24" height="11"/><rect class="tc" x="2" y="15" width="20" height="3"/><rect class="ty" x="2" y="19" width="7" height="3"/></g>
<g transform="translate(282,1297)"><rect class="e" width="28" height="48"/><rect class="t" x="2" y="3" width="24" height="34"/><rect class="ty" x="2" y="38" width="7" height="3"/><rect class="tc" x="2" y="42" width="20" height="3"/></g>
<g transform="translate(313,1297)"><rect class="e" width="28" height="38"/><rect class="t" x="2" y="3" width="24" height="24"/><rect class="ty" x="2" y="28" width="7" height="3"/><rect class="tc" x="2" y="32" width="20" height="3"/></g>
</g>
</g>

<g id="need-for-new-system">
<rect class="pill" x="411" y="845" width="337" height="55" fill="#dcdcf9"/>
<text class="pt" x="428" y="884" fill="#1b1b9e">need for new syste...</text>
<rect class="fr" x="412" y="906" width="335" height="461" rx="20" fill="#f8f8fd" stroke="#e3e3fb"/>

<g id="explicitly-expressed">
<rect class="pill" x="439" y="872" width="294" height="55" fill="#eef6d3"/>
<text class="pt" x="456" y="911" fill="#637a24">explicitly express...</text>
<rect class="fr" x="440" y="933" width="292" height="173" rx="20" fill="#fdfdf5" stroke="#f8f0dd"/>
<text class="h" x="453" y="951">general need for</text>
<text class="h" x="453" y="955.5">integrated rss tool</text>
<text class="h" x="509" y="951">need for tracking - making gpop scheduling flow</text>
<text class="h" x="509" y="955.5">automated &amp; tracking follow ups</text>
<text class="h" x="657" y="951">need for integrated messaging / better integrated</text>
<text class="h" x="657" y="955.5">communication or centralized area for todo lists</text>
<text class="h" x="506" y="971">gpop automated flow</text>
<text class="h" x="572" y="971">tracking follow ups</text>
<text class="h" x="607" y="971">Reoccuring scheduling</text>
<text class="h" x="607" y="1045">notifications</text>
<g transform="translate(452,962)"><rect class="c" width="29" height="31"/><rect class="t" x="2" y="3" width="25" height="15"/><rect class="tb" x="2" y="19" width="8" height="3"/><rect class="tc" x="2" y="23" width="20" height="2"/><rect class="tb" x="2" y="27" width="20" height="2"/></g>
<g transform="translate(452,994)"><rect class="c" width="29" height="33"/><rect class="t" x="2" y="3" width="25" height="17"/><rect class="tb" x="2" y="21" width="8" height="3"/><rect class="tc" x="2" y="25" width="20" height="2"/><rect class="tb" x="2" y="29" width="20" height="2"/></g>
<g transform="translate(505,977)"><rect class="g" width="29" height="51"/><rect class="t" x="2" y="3" width="25" height="35"/><rect class="tr" x="2" y="39" width="11" height="3"/><rect class="tc" x="2" y="43" width="20" height="2"/><rect class="tb" x="2" y="47" width="20" height="2"/></g>
<g transform="translate(505,1030)"><rect class="g" width="29" height="53"/><rect class="t" x="2" y="3" width="25" height="47"/></g>
<g transform="translate(537,977)"><rect class="g" width="29" height="80"/><rect class="t" x="2" y="3" width="25" height="62"/><rect class="tc" x="2" y="69" width="20" height="2"/><rect class="tr" x="2" y="73" width="11" height="3"/><rect class="tb" x="15" y="73" width="8" height="3"/></g>
<g transform="translate(572,977)"><rect class="g" width="29" height="41"/><rect class="t" x="2" y="3" width="25" height="27"/><rect class="tc" x="2" y="31" width="20" height="2"/><rect class="tr" x="2" y="35" width="11" height="3"/></g>
<g transform="translate(572,1019)"><rect class="g" width="29" height="33"/><rect class="t" x="2" y="3" width="25" height="19"/><rect class="tb" x="2" y="23" width="7" height="3"/><rect class="tc" x="2" y="27" width="20" height="2"/></g>
<g transform="translate(606,975)"><rect class="c" width="29" height="50"/><rect class="t" x="2" y="3" width="25" height="36"/><rect class="tc" x="2" y="41" width="20" height="3"/><rect class="tb" x="2" y="45" width="12" height="2"/></g>
<g transform="translate(606,1048)"><rect class="g" width="29" height="52"/><rect class="t" x="2" y="3" width="25" height="32"/><rect class="tr" x="2" y="37" width="10" height="3"/><rect class="tc" x="2" y="41" width="20" height="2"/><rect class="tb" x="2" y="45" width="8" height="2"/></g>
<g transform="translate(664,962)"><rect class="g" width="29" height="77"/><rect class="t" x="2" y="3" width="25" height="57"/><rect class="tr" x="2" y="63" width="11" height="3"/><rect class="tc" x="2" y="67" width="20" height="2"/><rect class="tb" x="2" y="71" width="20" height="2"/></g>
<g transform="translate(696,962)"><rect class="c" width="29" height="40"/><rect class="t" x="2" y="3" width="25" height="26"/><rect class="tc" x="2" y="31" width="20" height="2"/><rect class="tb" x="2" y="35" width="20" height="2"/></g>
<g transform="translate(696,1003)"><rect class="e" width="29" height="39"/><rect class="t" x="2" y="3" width="25" height="21"/><rect class="tb" x="2" y="26" width="20" height="2"/><rect class="ty" x="2" y="30" width="8" height="3"/><rect class="tc" x="2" y="34" width="20" height="2"/></g>
</g>

<g id="pain-points">
<rect class="pill" x="439" y="1082" width="178" height="55" fill="#d4f2fb"/>
<text class="pt" x="456" y="1121" fill="#2a6b7c">pain points</text>
<rect class="fr" x="440" y="1143" width="288" height="188" rx="20" fill="#f7fdff" stroke="#e3f6fb"/>
<text class="h" x="447" y="1154">ergonomists manage large</text>
<text class="h" x="447" y="1158.5">numbers of people</text>
<text class="h" x="566" y="1156">stress</text>
<text class="h" x="450" y="1246">missing emails</text>
<text class="h" x="601" y="1244">disorganization</text>
<g transform="translate(446,1160)"><rect class="c" width="28" height="69"/><rect class="t" x="2" y="3" width="24" height="59"/><rect class="tb" x="2" y="18" width="16" height="3"/><rect class="tc" x="2" y="22" width="20" height="2"/><rect class="tc" x="2" y="42" width="20" height="3"/><rect class="tb" x="2" y="62" width="18" height="3"/></g>
<g transform="translate(478,1160)"><rect class="b" width="28" height="24"/><rect class="t" x="2" y="3" width="24" height="10"/><rect class="tb" x="2" y="15" width="12" height="3"/><rect class="tc" x="2" y="19" width="20" height="2"/></g>
<g transform="translate(510,1160)"><rect class="c" width="28" height="44"/><rect class="t" x="2" y="3" width="24" height="30"/><rect class="tb" x="2" y="35" width="16" height="3"/><rect class="tc" x="2" y="39" width="20" height="2"/></g>
<g transform="translate(565,1160)"><rect class="g" width="28" height="30"/><rect class="t" x="2" y="3" width="24" height="12"/><rect class="tc" x="2" y="17" width="20" height="2"/><rect class="tr" x="2" y="21" width="11" height="3"/><rect class="tb" x="2" y="25" width="20" height="2"/></g>
<g transform="translate(597,1160)"><rect class="g" width="28" height="43"/><rect class="t" x="2" y="3" width="24" height="25"/><rect class="tb" x="2" y="30" width="14" height="2"/><rect class="tc" x="2" y="34" width="20" height="2"/><rect class="tr" x="2" y="38" width="11" height="3"/></g>
<g transform="translate(629,1160)"><rect class="g" width="28" height="48"/><rect class="t" x="2" y="3" width="24" height="30"/><rect class="tc" x="2" y="35" width="20" height="2"/><rect class="tb" x="2" y="39" width="20" height="2"/><rect class="tr" x="2" y="43" width="11" height="3"/></g>
<g transform="translate(448,1250)"><rect class="g" width="28" height="67"/><rect class="t" x="2" y="3" width="24" height="23"/><rect class="tc" x="2" y="27" width="20" height="2"/><rect class="tr" x="2" y="30" width="10" height="3"/><rect class="tb" x="14" y="30" width="10" height="3"/><rect class="t" x="2" y="35" width="24" height="16"/><rect class="tr" x="2" y="52" width="11" height="3"/><rect class="tb" x="2" y="56" width="20" height="2"/><rect class="tc" x="2" y="60" width="20" height="2"/></g>
<g transform="translate(480,1250)"><rect class="g" width="28" height="65"/><rect class="t" x="2" y="3" width="24" height="25"/><rect class="tb" x="2" y="29" width="14" height="2"/><rect class="tr" x="2" y="33" width="10" height="3"/><rect class="q" x="0" y="37" width="28" height="4"/><rect class="t" x="2" y="42" width="24" height="10"/><rect class="tb" x="2" y="54" width="18" height="3"/><rect class="tc" x="2" y="58" width="20" height="2"/><rect class="tr" x="2" y="61" width="11" height="3"/></g>
<g transform="translate(512,1250)"><rect class="c" width="28" height="56"/><rect class="t" x="2" y="3" width="24" height="16"/><rect class="tb" x="2" y="20" width="8" height="3"/><rect class="tc" x="2" y="24" width="20" height="2"/><rect class="t" x="2" y="28" width="24" height="14"/><rect class="tc" x="2" y="44" width="20" height="2"/><rect class="tb" x="2" y="50" width="12" height="3"/></g>
<g transform="translate(544,1250)"><rect class="g" width="28" height="81"/><rect class="t" x="2" y="3" width="24" height="63"/><rect class="tb" x="2" y="69" width="11" height="3"/><rect class="tc" x="2" y="73" width="20" height="2"/><rect class="tr" x="2" y="76" width="11" height="3"/></g>
<g transform="translate(600,1248)"><rect class="g" width="28" height="35"/><rect class="t" x="2" y="3" width="24" height="21"/><rect class="tc" x="2" y="25" width="20" height="2"/><rect class="tb" x="2" y="28" width="20" height="2"/><rect class="tr" x="2" y="31" width="11" height="3"/></g>
<g transform="translate(632,1248)"><rect class="e" width="28" height="32"/><rect class="t" x="2" y="3" width="24" height="18"/><rect class="tb" x="2" y="22" width="20" height="2"/><rect class="ty" x="2" y="25" width="8" height="3"/><rect class="tc" x="2" y="29" width="20" height="2"/></g>
</g>
</g>

<g id="tracking-insights">
<text class="ins" x="787" y="934" font-weight="700" font-size="7.6">TRACKING INSIGHTS</text>
<text class="ins">
<tspan x="787" y="946">- after an employee completes a self-assessment,</tspan>
<tspan x="787" dy="6.17">ergonomists usually send an email to employees</tspan>
<tspan x="787" dy="6.17">asking about available dates</tspan>
<tspan x="787" dy="6.17">- the information in the self-assessment usually</tspan>
<tspan x="787" dy="6.17">dictates the kind of appointment needed</tspan>
<tspan x="787" dy="6.17">- outside tools are used for scheduling such as</tspan>
<tspan x="787" dy="6.17">outlook/email for scheduling/communication, and</tspan>
<tspan x="787" dy="6.17">smartsheets/excel for tracking</tspan>
<tspan x="787" dy="6.17">- there's a general need for an integrated RSS tool for</tspan>
<tspan x="787" dy="6.17">things such as tracking (automated flow for gpop,</tspan>
<tspan x="787" dy="6.17">follow-ups, and reoccuring scheduling), and an</tspan>
<tspan x="787" dy="6.17">integrated messaging/communication center</tspan>
<tspan x="787" dy="6.17">- the current system is stressful and inefficient due</tspan>
<tspan x="787" dy="6.17">to disorganization and having to manage a large</tspan>
<tspan x="787" dy="6.17">number of people</tspan>
<tspan x="787" y="1049.5">SO WHAT:</tspan>
<tspan x="787" dy="6.19">- there is not a  tool that is currently being used</tspan>
<tspan x="787" dy="6.19">that is effective in all three categories of</tspan>
<tspan x="787" dy="6.19">scheduling, tracking, and communication to</tspan>
<tspan x="787" dy="6.19">help ergonomics effectively manage their work</tspan>
<tspan x="787" dy="6.19">- ergonomists don't have a way for information</tspan>
<tspan x="787" dy="6.19">to be automatically linked and located in the</tspan>
<tspan x="787" dy="6.19">same area, such as a self-assessment being</tspan>
<tspan x="787" dy="6.19">linked the the respective apopintment</tspan>
<tspan x="787" dy="6.19">- there is a need for tracking and automation</tspan>
<tspan x="787" y="1124">NOW WHAT:</tspan>
<tspan x="787" dy="6.08">- an integrated scheduling system in RSS</tspan>
<tspan x="787" dy="6.08">would allow the ergonomist to effectively</tspan>
<tspan x="787" dy="6.08">manage the large number of clients in</tspan>
<tspan x="787" dy="6.08">scheduling, tracking, and communication by</tspan>
<tspan x="787" dy="6.08">increasing organization, and streamlining</tspan>
<tspan x="787" dy="6.08">their workflow, overall reducing their stress</tspan>
<tspan x="787" dy="6.08">- features include:</tspan>
<tspan x="795" dy="6.08">- tracking (follow-ups &amp; reoccuring</tspan>
<tspan x="787" dy="6.08">scheduling</tspan>
<tspan x="795" dy="6.08">- a centralized place for all to-dos to help</tspan>
<tspan x="787" dy="6.08">with prioritization and organization</tspan>
<tspan x="795" dy="6.08">-possibly a messaging/communication</tspan>
<tspan x="787" dy="6.08">feature</tspan>
</text>
</g>
</g>
</svg>
